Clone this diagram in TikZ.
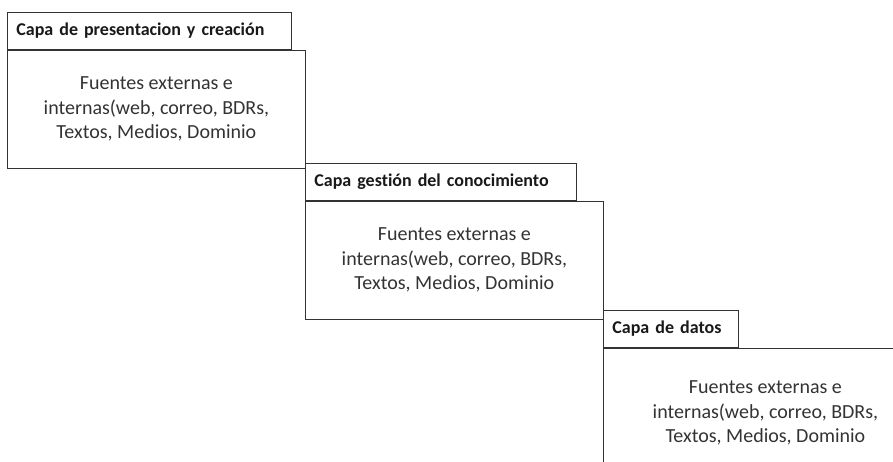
\documentclass[tikz,border=0pt]{standalone}
\usepackage{fontspec}
\setmainfont[Ligatures=NoCommon]{Carlito}
\usetikzlibrary{positioning}
\tikzset{
  capatitle/.style={
    draw=black!80,line width=0.8pt,anchor=north west,align=left,
    font=\fontsize{18}{21}\selectfont\bfseries,text=black!90,
    minimum height=37pt,inner xsep=9pt,inner ysep=0pt
  },
  capabody/.style={
    draw=black!80,line width=0.8pt,align=center,
    font=\fontsize{20}{24.5}\selectfont,text=black!80,
    minimum height=118pt
  }
}
\newcommand{\fuentes}{\vspace*{7pt}Fuentes externas e\\internas(web, correo, BDRs,\\Textos, Medios, Dominio}

\begin{document}
\begin{tikzpicture}[x=1pt,y=-1pt]
  \clip (0,0) rectangle (893,461);

  % Capas
  \foreach \x/\y/\w/\bw/\bh/\ttl [count=\i, evaluate=\w as \tw using \w-18] in
  {7/12/284/298/118/Capa de presentacion y creación,
   305/163/271/298/118/Capa gestión del conocimiento,
   603/310/135/324/130/Capa de datos}
  {
    \node[capatitle,text width=\tw pt] (titulo\i) at (\x,\y) {\ttl};
    \node[capabody,minimum width=\bw pt,minimum height=\bh pt,
      below=0pt of titulo\i.south west,anchor=north west] (cuerpo\i) {\fuentes};
  }
\end{tikzpicture}
\end{document}
